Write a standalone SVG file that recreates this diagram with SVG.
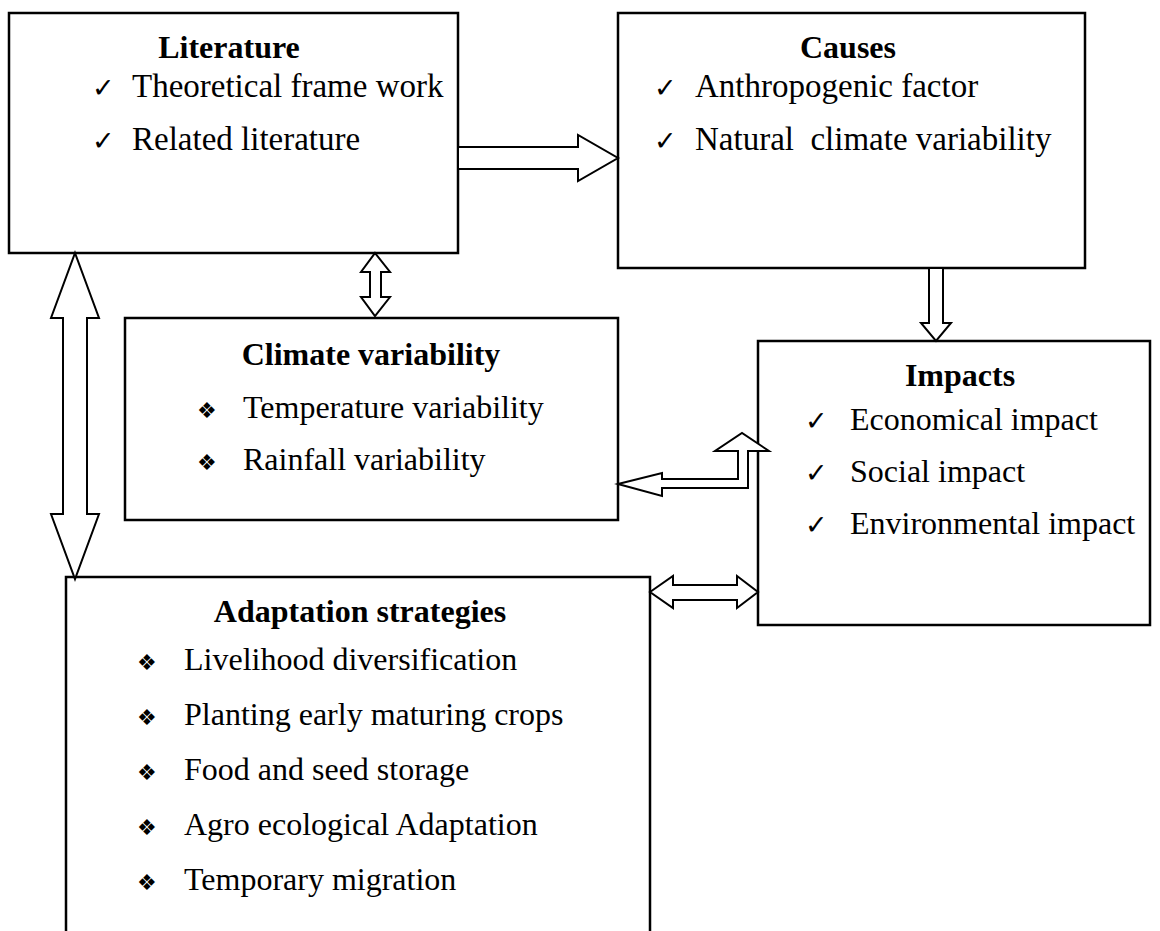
<svg xmlns="http://www.w3.org/2000/svg" width="1160" height="931" viewBox="0 0 1160 931">
<style>
.box{fill:#fff;stroke:#000;stroke-width:2.5}
.arr{fill:#fff;stroke:#000;stroke-width:2;stroke-linejoin:miter}
.t{font-family:"Liberation Serif","Times New Roman",serif;font-size:32px;fill:#000}
.tb{font-family:"Liberation Serif","Times New Roman",serif;font-size:33px;fill:#000}
.h{font-family:"Liberation Serif","Times New Roman",serif;font-size:32px;font-weight:bold;fill:#000;text-anchor:middle}
.s{font-family:"DejaVu Sans",sans-serif;font-size:22px;fill:#000}
.c{font-family:"DejaVu Sans",sans-serif;font-size:27px;fill:#000}
</style>
<rect width="1160" height="931" fill="#fff"/>
<g id="literature">
<rect class="box" x="9" y="13" width="449" height="240"/>
<text class="h" x="229" y="58">Literature</text>
<text class="c" x="92" y="97">✓</text><text class="tb" x="132" y="97">Theoretical frame work</text>
<text class="c" x="92" y="150">✓</text><text class="tb" x="132" y="150">Related literature</text>
</g>
<g id="causes">
<rect class="box" x="618" y="13" width="467" height="255"/>
<text class="h" x="848" y="58">Causes</text>
<text class="c" x="654" y="97">✓</text><text class="tb" x="695" y="97">Anthropogenic factor</text>
<text class="c" x="654" y="150">✓</text><text class="tb" x="695" y="150" xml:space="preserve">Natural  climate variability</text>
</g>
<g id="climate">
<rect class="box" x="125" y="318" width="493" height="202"/>
<text class="h" x="371" y="365">Climate variability</text>
<text class="s" x="197" y="418">❖</text><text class="t" x="243" y="418">Temperature variability</text>
<text class="s" x="197" y="470">❖</text><text class="t" x="243" y="470">Rainfall variability</text>
</g>
<g id="impacts">
<rect class="box" x="758" y="341" width="392" height="284"/>
<text class="h" x="960" y="386">Impacts</text>
<text class="c" x="805" y="430">✓</text><text class="t" x="850" y="430">Economical impact</text>
<text class="c" x="805" y="482">✓</text><text class="t" x="850" y="482">Social impact</text>
<text class="c" x="805" y="534">✓</text><text class="t" x="850" y="534">Environmental impact</text>
</g>
<g id="adaptation">
<rect class="box" x="66" y="577" width="584" height="380"/>
<text class="h" x="360" y="622">Adaptation strategies</text>
<text class="s" x="137" y="670">❖</text><text class="t" x="184" y="670">Livelihood diversification</text>
<text class="s" x="137" y="725">❖</text><text class="t" x="184" y="725">Planting early maturing crops</text>
<text class="s" x="137" y="780">❖</text><text class="t" x="184" y="780">Food and seed storage</text>
<text class="s" x="137" y="835">❖</text><text class="t" x="184" y="835">Agro ecological Adaptation</text>
<text class="s" x="137" y="890">❖</text><text class="t" x="184" y="890">Temporary migration</text>
</g>
<g id="connectors">
<polygon class="arr" points="458,147 578,147 578,135 618,158 578,181 578,169 458,169"/>
<polygon class="arr" points="375,253 390,272 381,272 381,297 390,297 375,316 361,297 370,297 370,272 361,272"/>
<polygon class="arr" points="75,253 99,318 87,318 87,514 99,514 75,579 51,514 63,514 63,318 51,318"/>
<polygon class="arr" points="929,268 943,268 943,323 951,323 936,341 921,323 929,323"/>
<polygon class="arr" points="618,484 662,473 662,479 738,479 738,451 715,451 742,433 769,451 748,451 748,488 662,488 662,496"/>
<polygon class="arr" points="650,592 673,576 673,585 737,585 737,576 758,592 737,608 737,600 673,600 673,608"/>
</g>
</svg>
